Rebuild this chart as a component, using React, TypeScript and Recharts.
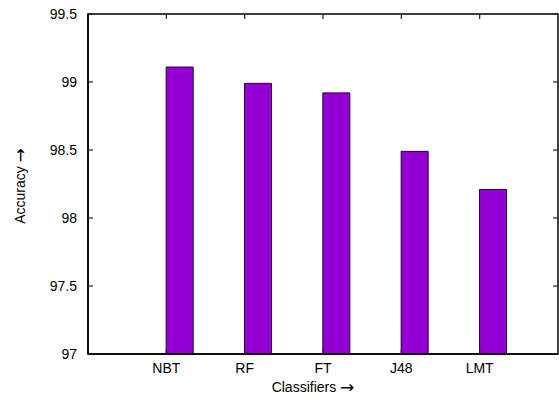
import React from 'react';
import { BarChart, Bar, XAxis, YAxis, Label, ReferenceArea } from 'recharts';

const categories = ['NBT', 'RF', 'FT', 'J48', 'LMT'];
const positions = [1, 2, 3, 4, 5];
const accuracy = [99.11, 98.99, 98.92, 98.49, 98.21];
const yTicks = [97, 97.5, 98, 98.5, 99, 99.5];
const xDomain = [0, 6];
const yDomain = [97, 99.5];

const data = categories.map((name, i) => ({ name, pos: positions[i], accuracy: accuracy[i] }));

const W = 559;
const H = 400;
const MARGIN = { top: 14, right: 1, left: 0, bottom: 0 };
const PLOT_RIGHT = W - MARGIN.right;
const PLOT_TOP = MARGIN.top;
const TICK = 5;

const font = '"Liberation Sans", Arial, Helvetica, sans-serif';
const arrowFont = '"DejaVu Sans", sans-serif';
const lineStyle = { stroke: '#000', strokeWidth: 1.5 };

const catLabel = (v: number) => {
  const i = positions.indexOf(v);
  return i >= 0 ? categories[i] : '';
};

// left axis: label, inward tick on the left border and its mirror on the right border
const LeftTick = ({ x, y, payload }: any) => (
  <g>
    <path d={`M${x + 11},${y}h${TICK}`} stroke="#222" strokeWidth={1.2} fill="none" />
    <path d={`M${PLOT_RIGHT},${y}h${-TICK}`} stroke="#222" strokeWidth={1.2} fill="none" />
    <text x={x} y={y} dy="0.355em" textAnchor="end" fontSize={14} fontFamily={font} fill="#000">
      {payload.value}
    </text>
  </g>
);

// bottom axis: label, inward tick and its mirror on the top border
const BottomTick = ({ x, y, payload }: any) => (
  <g>
    <path d={`M${x},${y - 9}v${-TICK}`} stroke="#222" strokeWidth={1.2} fill="none" />
    <path d={`M${x},${PLOT_TOP}v${TICK}`} stroke="#222" strokeWidth={1.2} fill="none" />
    <text x={x} y={y} dy="0.71em" textAnchor="middle" fontSize={14} fontFamily={font} fill="#000">
      {catLabel(payload.value)}
    </text>
  </g>
);

const YTitle = ({ viewBox }: any) => {
  const x = viewBox.x + 20;
  const y = viewBox.y + viewBox.height / 2 + 2;
  return (
    <text
      x={x}
      y={y}
      transform={`rotate(-90 ${x} ${y})`}
      textAnchor="middle"
      dominantBaseline="central"
      fontSize={14}
      fontFamily={font}
      fill="#000"
    >
      Accuracy <tspan fontFamily={arrowFont} fontSize={17}>→</tspan>
    </text>
  );
};

const XTitle = ({ viewBox }: any) => {
  const x = viewBox.x + viewBox.width / 2 - 10;
  const y = viewBox.y + 33;
  return (
    <text x={x} y={y} textAnchor="middle" dominantBaseline="central" fontSize={14} fontFamily={font} fill="#000">
      Classifiers <tspan fontFamily={arrowFont} fontSize={17}>→</tspan>
    </text>
  );
};

export default function App() {
  return (
    <div style={{ position: 'absolute', left: 0, top: 0, width: W, height: H, background: '#fff' }}>
      <BarChart width={W} height={H} data={data} margin={MARGIN} barGap={0}>
        <XAxis
          dataKey="pos"
          type="number"
          domain={xDomain}
          ticks={positions}
          height={46}
          tick={<BottomTick />}
          tickSize={0}
          tickMargin={9}
          axisLine={lineStyle}
          tickLine={false}
        >
          <Label content={<XTitle />} />
        </XAxis>
        <YAxis
          type="number"
          domain={yDomain}
          ticks={yTicks}
          width={88}
          tick={<LeftTick />}
          tickSize={0}
          tickMargin={11}
          axisLine={lineStyle}
          tickLine={false}
        >
          <Label content={<YTitle />} />
        </YAxis>
        <ReferenceArea
          x1={xDomain[0]}
          x2={xDomain[1]}
          y1={yDomain[0]}
          y2={yDomain[1]}
          fill="none"
          stroke="#000"
          strokeWidth={1.5}
          ifOverflow="visible"
        />
        <Bar dataKey="blank" barSize={27} fill="none" isAnimationActive={false} />
        <Bar
          dataKey="accuracy"
          barSize={27}
          fill="#9400D3"
          stroke="#2a003d"
          strokeWidth={1}
          isAnimationActive={false}
        />
      </BarChart>
    </div>
  );
}
